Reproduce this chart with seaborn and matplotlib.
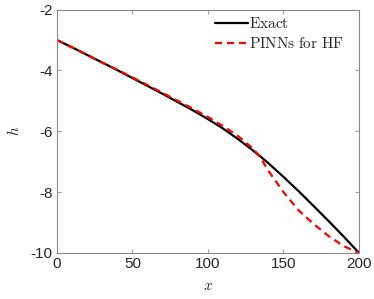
import numpy as np
import pandas as pd
import matplotlib
matplotlib.use('Agg')
import matplotlib.pyplot as plt
import seaborn as sns

# ── Data ─────────────────────────────────────────────────────
x_vals = [0, 10, 20, 30, 40, 50, 60, 70, 80, 90, 100,
          110, 120, 130, 135, 140, 150, 160, 170, 180, 190, 200]
h_exact = [-3.0, -3.24, -3.49, -3.74, -3.99, -4.25, -4.51, -4.77, -5.04, -5.31, -5.6,
           -5.91, -6.26, -6.64, -6.84, -7.05, -7.5, -7.97, -8.46, -8.96, -9.47, -10.0]
h_pinn = [-3.0, -3.24, -3.49, -3.74, -3.98, -4.23, -4.48, -4.74, -5.0, -5.26, -5.53,
          -5.83, -6.16, -6.58, -6.88, -7.3, -8.0, -8.6, -9.05, -9.45, -9.78, -10.0]

sns.set_style('ticks')
plt.rcParams['font.family'] = ['Liberation Sans', 'DejaVu Sans']
plt.rcParams['mathtext.fontset'] = 'cm'
plt.rcParams['axes.unicode_minus'] = False

df = pd.DataFrame({'x': x_vals, 'exact': h_exact, 'pinn': h_pinn})

fig = plt.figure(figsize=(3.74, 2.99), dpi=100)
ax = fig.add_axes([0.152, 0.154, 0.808, 0.814])

sns.lineplot(data=df, x='x', y='exact', ax=ax, color='black', lw=1.6,
             label=r'$\mathrm{Exact}$')
sns.lineplot(data=df, x='x', y='pinn', ax=ax, color='red', lw=1.6,
             label=r'$\mathrm{PINNs\ for\ HF}$')
ax.lines[1].set_dashes((3.2, 2.2))

ax.set_xlim(0, 200)
ax.set_ylim(-10, -2)
ax.set_xticks([0, 50, 100, 150, 200])
ax.set_yticks([-10, -8, -6, -4, -2])
ax.set_xlabel(r'$x$', fontsize=11, labelpad=6)
ax.set_ylabel(r'$h$', fontsize=11, labelpad=6)

for s in ax.spines.values():
    s.set_visible(True)
    s.set_color('#8a8a8a')
    s.set_linewidth(0.8)
ax.tick_params(direction='in', length=3, width=0.6, color='#8a8a8a',
               labelsize=11, labelcolor='#262626', top=True, right=True, pad=3)

leg = ax.legend(loc='upper right', bbox_to_anchor=(0.98, 1.01), frameon=False,
                fontsize=11, handlelength=2.2, handletextpad=0.05,
                labelspacing=0.3, borderaxespad=0.2)
for h in leg.get_lines():
    h.set_linewidth(1.6)
leg.get_lines()[1].set_dashes((3.2, 2.2))

plt.savefig('out.png', dpi=100)
plt.close()
